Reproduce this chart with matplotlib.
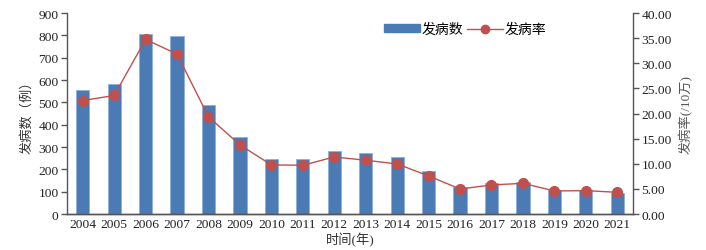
import numpy as np
import matplotlib
matplotlib.use("Agg")
import matplotlib.pyplot as plt
from matplotlib.lines import Line2D
from matplotlib.patches import Patch

plt.rcParams['font.family'] = ['Liberation Serif', 'Noto Sans CJK SC']

years = ['2004', '2005', '2006', '2007', '2008', '2009', '2010', '2011', '2012',
         '2013', '2014', '2015', '2016', '2017', '2018', '2019', '2020', '2021']
cases = [554, 584, 806, 797, 486, 345, 245, 245, 283,
         272, 254, 194, 121, 139, 145, 108, 108, 94]
rate = [22.59, 23.59, 34.75, 31.83, 19.34, 13.75, 9.77, 9.70, 11.36,
        10.70, 9.97, 7.57, 4.98, 5.78, 6.11, 4.59, 4.65, 4.32]

bar_col = '#4a7bb5'
line_col = '#c0504d'
axis_col = '#555555'

fig = plt.figure(figsize=(7.06, 2.51), dpi=100)
ax = fig.add_axes([0.0949, 0.1434, 0.8017, 0.8006])
ax2 = ax.twinx()

x = np.arange(len(years))
ax.bar(x, cases, width=0.42, color=bar_col, edgecolor='#8fb0d8', linewidth=0.6, zorder=2)
ax2.plot(x, rate, color=line_col, lw=1.0, marker='o', ms=7, zorder=3)

ax.set_xlim(-0.5, len(years) - 0.5)
ax.set_ylim(0, 900)
ax.set_yticks(range(0, 901, 100))
ax2.set_ylim(0, 40)
ax2.set_yticks(np.arange(0, 40.1, 5))
ax2.set_yticklabels(['%.2f' % v for v in np.arange(0, 40.1, 5)])
ax.set_xticks(x)
ax.set_xticklabels(years)

for a in (ax, ax2):
    a.spines['top'].set_visible(False)
    for s in a.spines.values():
        s.set_color(axis_col)
        s.set_linewidth(1.0)
    a.tick_params(axis='y', colors='#222222', labelsize=9.7, length=4, width=1.0, color=axis_col, pad=2)
ax.tick_params(axis='x', length=0, labelsize=9.7, pad=3, colors='#222222')
ax2.spines['left'].set_visible(False)
ax.spines['right'].set_visible(False)

ax.set_ylabel('发病数（例）', fontsize=9.5, color='#333333')
ax.yaxis.set_label_coords(-0.06, 0.5)
ax2.set_ylabel('发病率(/10万)', fontsize=9.5, color='#555555')
ax2.yaxis.set_label_coords(1.08, 0.5)
ax.set_xlabel('时间(年)', fontsize=9.5, labelpad=1, color='#333333')

handles = [Patch(facecolor=bar_col, edgecolor=bar_col),
           Line2D([0], [0], color=line_col, lw=1.0, marker='o', ms=6)]
leg = ax.legend(handles, ['发病数', '发病率'], loc='upper left',
                bbox_to_anchor=(0.55, 0.98), ncol=2, frameon=False,
                fontsize=10, handlelength=2.6, handleheight=0.5,
                columnspacing=0.3, handletextpad=0.1, borderaxespad=0)

fig.savefig('out.png', dpi=100)
